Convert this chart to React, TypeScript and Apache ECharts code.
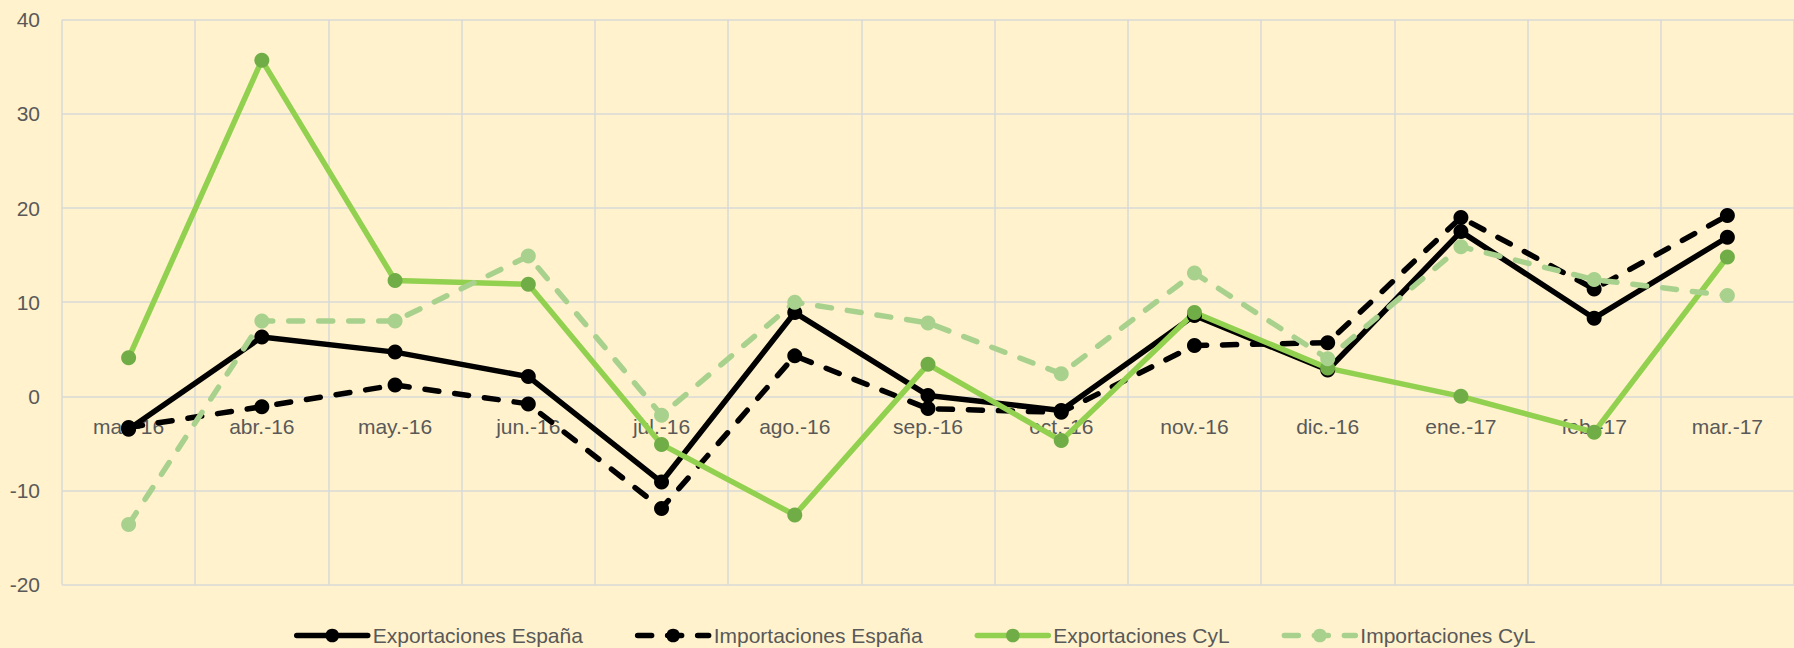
import React, { useEffect, useRef } from "react";
import * as echarts from "echarts";

const categories = [
  "mar.-16", "abr.-16", "may.-16", "jun.-16", "jul.-16", "ago.-16", "sep.-16",
  "oct.-16", "nov.-16", "dic.-16", "ene.-17", "feb.-17", "mar.-17",
];

const exportacionesEspana = [-3.5, 6.3, 4.7, 2.1, -9.1, 8.9, 0.1, -1.5, 8.6, 2.8, 17.5, 8.3, 16.9];
const importacionesEspana = [-3.3, -1.1, 1.2, -0.8, -11.9, 4.3, -1.3, -1.7, 5.4, 5.7, 19.0, 11.4, 19.2];
const exportacionesCyL = [4.1, 35.7, 12.3, 11.9, -5.1, -12.6, 3.4, -4.7, 8.9, 3.0, 0.0, -3.8, 14.8];
const importacionesCyL = [-13.6, 8.0, 8.0, 14.9, -2.0, 10.0, 7.8, 2.4, 13.1, 4.0, 15.9, 12.4, 10.7];

const yTicks = { min: -20, max: 40, interval: 10 };

const FONT = "Liberation Sans";
const TEXT = "#595959";
const GRID = "#D9D9D9";

const GRID_TOP = 19.7;
const GRID_H = 565;

export default function App() {
  const ref = useRef<HTMLDivElement>(null);

  useEffect(() => {
    if (!ref.current) return;
    const chart = echarts.init(ref.current, null, { renderer: "svg" });

    const mk = (
      name: string,
      data: number[],
      lineColor: string,
      markerColor: string,
      dashed: boolean
    ) => ({
      name,
      type: "line",
      data,
      symbol: "circle",
      symbolSize: 15,
      showSymbol: true,
      lineStyle: {
        color: lineColor,
        width: 5.5,
        type: dashed ? [14, 16] : "solid",
        cap: "round",
        join: "round",
      },
      itemStyle: { color: markerColor, borderColor: markerColor, borderWidth: 0 },
      emphasis: { disabled: true },
    });

    // offset of the category axis so it sits on the zero line
    const zeroOffset = -(GRID_H * (0 - yTicks.min)) / (yTicks.max - yTicks.min);

    chart.setOption({
      animation: false,
      backgroundColor: "#FFF2CC",
      textStyle: { fontFamily: FONT },
      grid: { left: 62, top: GRID_TOP, width: 1745, height: GRID_H, containLabel: false },
      legend: {
        left: 289,
        top: 620,
        itemWidth: 71,
        itemHeight: 17,
        itemGap: 52,
        lineStyle: { width: 5.5 },
        textStyle: { fontFamily: FONT, fontSize: 21, color: TEXT },
        data: [
          "Exportaciones España",
          "Importaciones España",
          "Exportaciones CyL",
          "Importaciones CyL",
        ],
      },
      xAxis: {
        type: "category",
        data: categories,
        boundaryGap: true,
        position: "bottom",
        offset: zeroOffset,
        axisLine: { show: false, onZero: false },
        axisTick: { show: false },
        axisLabel: {
          color: TEXT,
          fontFamily: FONT,
          fontSize: 21,
          margin: 20,
          interval: 0,
        },
        splitLine: { show: true, lineStyle: { color: GRID, width: 1.5 } },
      },
      yAxis: {
        type: "value",
        min: yTicks.min,
        max: yTicks.max,
        interval: yTicks.interval,
        axisLine: { show: false },
        axisTick: { show: false },
        axisLabel: { color: TEXT, fontFamily: FONT, fontSize: 21, margin: 22 },
        splitLine: { show: true, lineStyle: { color: GRID, width: 1.5 } },
      },
      series: [
        mk("Exportaciones España", exportacionesEspana, "#000000", "#000000", false),
        mk("Importaciones España", importacionesEspana, "#000000", "#000000", true),
        mk("Exportaciones CyL", exportacionesCyL, "#92D050", "#70AD47", false),
        mk("Importaciones CyL", importacionesCyL, "#A9D18E", "#A9D18E", true),
      ],
    });

    return () => chart.dispose();
  }, []);

  return (
    <div
      ref={ref}
      style={{ position: "fixed", left: 0, top: 0, width: 1794, height: 648 }}
    />
  );
}
